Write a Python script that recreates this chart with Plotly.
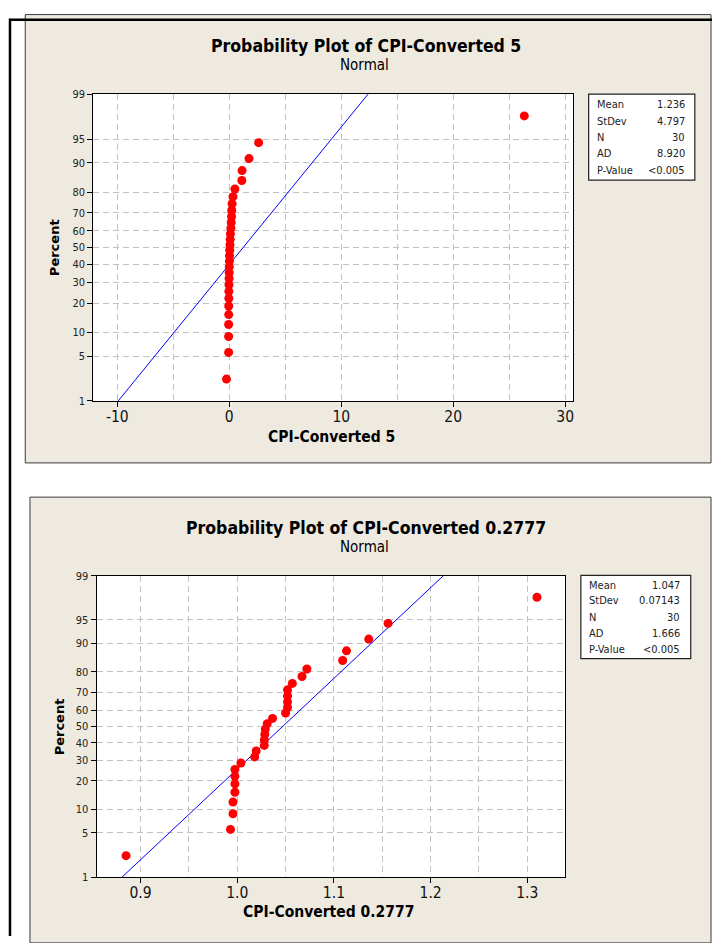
import plotly.graph_objects as go
from statistics import NormalDist

W, H = 713, 943

# ---------------- data ----------------
pct_ticks = [1, 5, 10, 20, 30, 40, 50, 60, 70, 80, 90, 95, 99]
stat_labels = ["Mean", "StDev", "N", "AD", "P-Value"]

cpi5_values = [-0.25, -0.06, -0.06, -0.06, -0.05, -0.05, -0.04, -0.04, -0.03, -0.02,
               -0.01, 0.0, 0.01, 0.02, 0.04, 0.06, 0.08, 0.10, 0.14, 0.17,
               0.20, 0.22, 0.25, 0.33, 0.50, 1.12, 1.14, 1.76, 2.62, 26.35]
cpi5_stat_values = ["1.236", "4.797", "30", "8.920", "<0.005"]
cpi5_mean, cpi5_sd = 1.236, 4.797
cpi5_xticks = [-10, 0, 10, 20, 30]
cpi5_xminor = [-5, 5, 15, 25]

cpi2777_values = [0.885, 0.993, 0.9956, 0.9956, 0.9976, 0.9976, 0.9976, 0.9976, 1.0038, 1.018,
                  1.0196, 1.028, 1.028, 1.0285, 1.029, 1.031, 1.0365, 1.05, 1.052, 1.052,
                  1.052, 1.052, 1.057, 1.067, 1.072, 1.109, 1.113, 1.136, 1.156, 1.31]
cpi2777_stat_values = ["1.047", "0.07143", "30", "1.666", "<0.005"]
cpi2777_mean, cpi2777_sd = 1.047, 0.07143
cpi2777_xticks = [0.9, 1.0, 1.1, 1.2, 1.3]
cpi2777_xminor = [0.95, 1.05, 1.15, 1.25]

# ---------------- helpers ----------------
nd = NormalDist()
zq = nd.inv_cdf


def px(x):
    return x / W


def py(y):
    return 1 - y / H


FONT = "DejaVu Sans Condensed"
BEIGE = "#EEEAE0"
GRID = "#C2C2C2"
DASH = "6px,4px"

fig = go.Figure()
shapes = []
annotations = []

panels = [
    dict(values=cpi5_values, mean=cpi5_mean, sd=cpi5_sd, stats=cpi5_stat_values,
         xticks=cpi5_xticks, xminor=cpi5_xminor, xrange=[-12.16, 30.7],
         plot=(93.3, 89.3, 573.8, 400.5), panel=(25.3, 8.7, 712, 463.3),
         box=(589.5, 89.3, 695.8, 176.5), box_lx=595.7, box_rx=687.5,
         box_rows=[99.7, 116.7, 133.2, 150.0, 166.7],
         title="Probability Plot of CPI-Converted 5", title_xy=(366.6, 40.5),
         sub_xy=(365.5, 60.0), xtitle="CPI-Converted 5", xtitle_xy=(331.5, 437.5),
         ytitle_xy=(54.6, 245.0), tickfmt=lambda v: str(v)),
    dict(values=cpi2777_values, mean=cpi2777_mean, sd=cpi2777_sd, stats=cpi2777_stat_values,
         xticks=cpi2777_xticks, xminor=cpi2777_xminor, xrange=[0.8545, 1.339],
         plot=(96.7, 577.7, 565.8, 883.3), panel=(30.0, 498.0, 712, 950),
         box=(581.7, 577.3, 691.7, 661.7), box_lx=587.7, box_rx=683.0,
         box_rows=[587.3, 603.3, 620.0, 636.7, 652.7],
         title="Probability Plot of CPI-Converted 0.2777", title_xy=(366.4, 529.5),
         sub_xy=(365.5, 549.0), xtitle="CPI-Converted 0.2777", xtitle_xy=(329.0, 919.0),
         ytitle_xy=(60.0, 730.5), tickfmt=lambda v: f"{v:.1f}"),
]

zlo, zhi = zq(0.01), zq(0.99)
ytickvals = [zq(p / 100) for p in pct_ticks]
yticktext = [str(p) for p in pct_ticks]

for k, P in enumerate(panels):
    sfx = "" if k == 0 else str(k + 1)
    xa, ya = "x" + sfx, "y" + sfx
    vals = sorted(P["values"])
    n = len(vals)
    zs = [zq((i - 0.3) / (n + 0.4)) for i in range(1, n + 1)]

    # fitted line
    fig.add_trace(go.Scatter(
        x=[P["mean"] + P["sd"] * zlo, P["mean"] + P["sd"] * zhi], y=[zlo, zhi],
        mode="lines", line=dict(color="#0000FF", width=1), xaxis=xa, yaxis=ya,
        showlegend=False, hoverinfo="skip"))
    # data points
    fig.add_trace(go.Scatter(
        x=vals, y=zs, mode="markers",
        marker=dict(color="#FF0000", size=9, line=dict(width=0)),
        xaxis=xa, yaxis=ya, showlegend=False))

    x0, y0, x1, y1 = P["plot"]
    axis_common = dict(
        showline=True, linecolor="#000000", linewidth=1, mirror=True,
        ticks="outside", ticklen=5, tickcolor="#000000", tickwidth=1,
        showgrid=True, gridcolor=GRID, gridwidth=1, griddash=DASH,
        zeroline=False, fixedrange=True,
    )
    fig.update_layout(**{
        "xaxis" + sfx: dict(
            domain=[px(x0), px(x1)], range=P["xrange"], anchor=ya,
            tickmode="array", tickvals=P["xticks"],
            ticktext=[P["tickfmt"](v) for v in P["xticks"]],
            tickfont=dict(family=FONT, size=15.5, color="#111111"),
            ticklabelstandoff=-4,
            minor=dict(tickmode="array", tickvals=P["xminor"], showgrid=True,
                       gridcolor=GRID, gridwidth=1, griddash=DASH, ticks=""),
            **axis_common),
        "yaxis" + sfx: dict(
            domain=[py(y1), py(y0)], range=[zlo, zhi], anchor=xa,
            tickmode="array", tickvals=ytickvals, ticktext=yticktext,
            tickfont=dict(family=FONT, size=11, color="#222222"),
            **axis_common),
    })

    # panel background + plot area + stats box
    a, b, c, d = P["panel"]
    shapes.append(dict(type="rect", xref="paper", yref="paper", layer="below",
                       x0=px(a), x1=px(c), y0=py(d), y1=py(b),
                       fillcolor=BEIGE, line=dict(color="#3A3A3A", width=1)))
    shapes.append(dict(type="rect", xref="paper", yref="paper", layer="below",
                       x0=px(x0), x1=px(x1), y0=py(y1), y1=py(y0),
                       fillcolor="#FFFFFF", line=dict(width=0)))
    a, b, c, d = P["box"]
    shapes.append(dict(type="rect", xref="paper", yref="paper", layer="below",
                       x0=px(a), x1=px(c), y0=py(d), y1=py(b),
                       fillcolor="#FFFFFF", line=dict(color="#222222", width=1.2)))
    for lab, val, ry in zip(stat_labels, P["stats"], P["box_rows"]):
        annotations.append(dict(xref="paper", yref="paper", x=px(P["box_lx"]), y=py(ry),
                                xanchor="left", yanchor="middle", text=lab, showarrow=False,
                                font=dict(family=FONT, size=11, color="#222222")))
        annotations.append(dict(xref="paper", yref="paper", x=px(P["box_rx"]), y=py(ry),
                                xanchor="right", yanchor="middle", text=val, showarrow=False,
                                font=dict(family=FONT, size=11, color="#222222")))

    # titles
    annotations.append(dict(xref="paper", yref="paper", x=px(P["title_xy"][0]), y=py(P["title_xy"][1]),
                            xanchor="center", yanchor="middle", text="<b>" + P["title"] + "</b>",
                            showarrow=False, font=dict(family=FONT, size=17.5, color="#000000")))
    annotations.append(dict(xref="paper", yref="paper", x=px(P["sub_xy"][0]), y=py(P["sub_xy"][1]),
                            xanchor="center", yanchor="middle", text="Normal",
                            showarrow=False, font=dict(family=FONT, size=15, color="#000000")))
    annotations.append(dict(xref="paper", yref="paper", x=px(P["xtitle_xy"][0]), y=py(P["xtitle_xy"][1]),
                            xanchor="center", yanchor="middle", text="<b>" + P["xtitle"] + "</b>",
                            showarrow=False, font=dict(family=FONT, size=15.5, color="#000000")))
    annotations.append(dict(xref="paper", yref="paper", x=px(P["ytitle_xy"][0]), y=py(P["ytitle_xy"][1]),
                            xanchor="center", yanchor="middle", text="<b>Percent</b>", textangle=-90,
                            showarrow=False, font=dict(family="DejaVu Sans", size=13, color="#000000")))

# black page border lines
shapes.append(dict(type="line", xref="paper", yref="paper", layer="above",
                   x0=px(9), x1=px(713), y0=py(14), y1=py(14),
                   line=dict(color="#000000", width=2.5)))
shapes.append(dict(type="line", xref="paper", yref="paper", layer="above",
                   x0=px(10), x1=px(10), y0=py(13), y1=py(943),
                   line=dict(color="#000000", width=2.5)))

fig.update_layout(
    width=W, height=H, margin=dict(l=0, r=0, t=0, b=0),
    paper_bgcolor="#FFFFFF", plot_bgcolor="rgba(0,0,0,0)",
    shapes=shapes, annotations=annotations, showlegend=False,
)

fig.write_html(
    "out.html",
    config={"displayModeBar": False},
    post_script="document.body.style.margin='0';document.body.style.overflow='hidden';",
)
